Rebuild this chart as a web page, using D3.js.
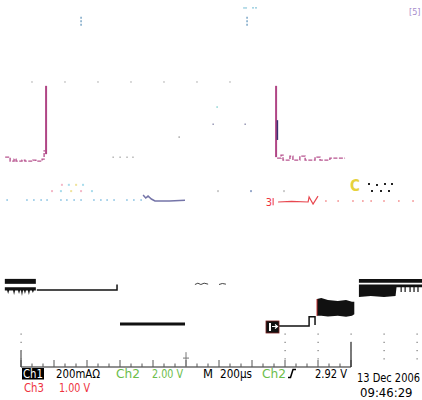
<!DOCTYPE html>
<html>
<head>
<meta charset="utf-8">
<style>
  body { margin: 0; background: #fff; }
  text { font-family: "Liberation Sans Narrow", "DejaVu Sans Condensed", "Arial Narrow", sans-serif; font-stretch: condensed; }
</style>
</head>
<body>
<script src="https://cdn.jsdelivr.net/npm/d3@7"></script>
<script>
// all values in graticule divisions: x = time (1 div = 200 µs), y = level above the bottom edge
const ch1BandTop = [[-0.49, 2.67, 2.52], [0.45, 2.67, 2.52]];
const ch1BandNoisy = [
  [-0.49, 2.42, 2.32], [-0.42, 2.42, 2.32], [-0.39, 2.42, 2.21], [-0.36, 2.42, 2.32],
  [-0.24, 2.42, 2.32], [-0.21, 2.42, 2.18], [-0.18, 2.42, 2.32], [-0.09, 2.42, 2.32],
  [-0.06, 2.42, 2.21], [-0.03, 2.42, 2.32], [0.0, 2.42, 2.32], [0.03, 2.42, 2.15],
  [0.06, 2.42, 2.32], [0.09, 2.42, 2.32], [0.12, 2.42, 2.21], [0.15, 2.42, 2.32],
  [0.21, 2.42, 2.32], [0.24, 2.42, 2.18], [0.27, 2.42, 2.32], [0.33, 2.42, 2.32],
  [0.36, 2.42, 2.24], [0.39, 2.42, 2.32], [0.45, 2.42, 2.32]
];
const ch1Step = [[0.48, 2.33], [2.91, 2.33], [2.91, 2.50]];
const ch1Low = [[3.0, 1.30], [4.97, 1.30]];
const ch1Glitch1 = [[5.27, 2.50], [5.36, 2.54], [5.45, 2.50], [5.55, 2.54], [5.67, 2.51]];
const ch1Glitch2 = [[6.0, 2.50], [6.1, 2.53], [6.21, 2.51]];
const ch1Ref = [[7.82, 1.24], [8.73, 1.24], [8.73, 1.52], [8.91, 1.52], [8.91, 1.27]];
const ch1BlockMid = [
  [8.97, 2.06, 1.55], [9.1, 2.09, 1.55], [9.3, 2.03, 1.53], [9.6, 2.0, 1.55],
  [9.85, 2.03, 1.52], [10.03, 1.98, 1.55], [10.1, 1.98, 1.6]
];
const ch1BlockHighTop = [[10.24, 2.67, 2.55], [12.2, 2.67, 2.55]];
const ch1BlockHigh = [
  [10.24, 2.50, 2.12], [10.6, 2.50, 2.15], [11.0, 2.50, 2.12], [11.35, 2.50, 2.15],
  [11.38, 2.50, 2.42], [12.2, 2.50, 2.42]
];
const ch1Spikes = [11.52, 11.64, 11.79, 11.91, 12.03];

const ch4Edges = [0.76, 7.73];
const ch4EdgeTop = 8.52;
const ch4EdgeBottom = [6.45, 6.36];
const ch4Noise1 = [
  [-0.48, 6.36], [-0.33, 6.36], [-0.33, 6.24], [-0.21, 6.24], [-0.21, 6.30], [-0.15, 6.30],
  [-0.15, 6.24], [0.03, 6.24], [0.03, 6.27], [0.12, 6.27], [0.12, 6.24], [0.36, 6.24],
  [0.36, 6.27], [0.45, 6.27], [0.45, 6.24], [0.64, 6.24], [0.64, 6.30], [0.70, 6.30],
  [0.70, 6.55], [0.76, 6.55]
];
const ch4Noise2 = [
  [7.76, 6.33], [7.88, 6.33], [7.88, 6.42], [7.94, 6.42], [7.94, 6.27], [8.15, 6.27],
  [8.15, 6.39], [8.24, 6.39], [8.24, 6.27], [8.45, 6.27], [8.45, 6.39], [8.61, 6.39],
  [8.61, 6.27], [8.91, 6.27], [8.91, 6.36], [9.06, 6.36], [9.06, 6.27], [9.36, 6.27],
  [9.36, 6.33], [9.82, 6.33]
];
const ch4Dark = [[7.77, 7.48], [7.77, 6.88]];

const refTrace = [[3.70, 5.21], [3.78, 5.12], [3.85, 5.18], [3.95, 5.09], [4.06, 5.03], [4.5, 5.03], [4.97, 5.05]];
const refDots = [-0.42, 0.18, 0.39, 0.61, 0.79, 1.21, 1.39, 1.61, 1.82, 2.21, 2.42, 2.61, 2.82, 3.21, 3.42, 3.64];
const ch3Trace = [[7.79, 5.0], [8.2, 5.02], [8.70, 5.0], [8.73, 5.15], [8.85, 4.94], [9.0, 5.18]];
const ch3Dots = [9.24, 9.61, 10.06, 10.36, 10.61, 11.0, 11.45, 11.88];

const cursorCols = [1.82, 6.85];
const cursorSpan = [10.30, 10.61];
const topDotsX = [0.33, 1.33, 2.33, 3.33, 4.33, 5.33, 6.33];
const topDotsY = 8.64;
const strayDots = [[4.79, 6.97, "#999"], [5.94, 7.88, "#7cc"], [5.82, 7.36, "#88a"], [6.79, 7.36, "#88a"],
  [2.79, 6.36, "#aaa"], [3.0, 6.36, "#aaa"], [3.21, 6.36, "#aaa"], [3.39, 6.36, "#aaa"]];
const pastelDots = [[1.24, 5.52, "#f4b8c8"], [1.45, 5.52, "#a8dcec"], [1.67, 5.52, "#f0e39a"], [1.88, 5.52, "#a8dcec"],
  [0.94, 5.33, "#f4b8c8"], [1.21, 5.33, "#a8dcec"], [1.52, 5.33, "#f0e39a"], [1.82, 5.33, "#f4b8c8"], [2.15, 5.33, "#a8dcec"],
  [5.97, 5.33, "#ccc"], [6.97, 5.33, "#9ac"], [7.97, 5.33, "#ccc"]];
const bottomDotCols = [0, 8, 9, 10, 11, 12];
const bottomDotRows = [1.0, 0.75, 0.5, 0.25];

const labelsRow1 = [
  { text: "200mAΩ", x: 56, w: 44, color: "#000" },
  { text: "Ch2", x: 116, w: 24, color: "#6bbd4a" },
  { text: "2.00 V", x: 152, w: 31, color: "#6bbd4a" },
  { text: "M", x: 203, w: 10, color: "#000" },
  { text: "200µs", x: 220, w: 32, color: "#000" },
  { text: "Ch2", x: 262, w: 24, color: "#6bbd4a" },
  { text: "2.92 V", x: 315, w: 32, color: "#000" }
];
const labelsRow2 = [
  { text: "Ch3", x: 24, w: 20, color: "#ee3340" },
  { text: "1.00 V", x: 59, w: 31, color: "#ee3340" }
];
const dateLabel = "13 Dec 2006";
const timeLabel = "09:46:29";

const width = 422;
const height = 400;

const svg = d3.select("body")
  .append("svg")
  .attr("width", width)
  .attr("height", height);

svg.append("rect").attr("width", width).attr("height", height).attr("fill", "white");

const x = d3.scaleLinear().domain([0, 10]).range([21, 351]);
const y = d3.scaleLinear().domain([0, 8]).range([367, 103]);

const line = d3.line().x(d => x(d[0])).y(d => y(d[1]));
const area = d3.area().x(d => x(d[0])).y0(d => y(d[2])).y1(d => y(d[1]));

// graticule remains
const g = svg.append("g");
g.append("line").attr("x1", x(0)).attr("x2", x(10)).attr("y1", y(0)).attr("y2", y(0))
  .attr("stroke", "#222").attr("stroke-width", 1.2);
g.selectAll(".minor").data(d3.range(0, 31).map(i => i / 3)).join("line")
  .attr("x1", d => x(d)).attr("x2", d => x(d))
  .attr("y1", d => y(0) - (Math.abs(d - Math.round(d)) < 0.01 ? 7 : 3.5)).attr("y2", y(0))
  .attr("stroke", "#555").attr("stroke-width", 1);
g.append("line").attr("x1", x(0)).attr("x2", x(0)).attr("y1", y(0.5)).attr("y2", y(0)).attr("stroke", "#333");
g.append("line").attr("x1", x(10)).attr("x2", x(10)).attr("y1", y(0.76)).attr("y2", y(0)).attr("stroke", "#222").attr("stroke-width", 1.2);
g.append("line").attr("x1", x(5)).attr("x2", x(5)).attr("y1", y(0.45)).attr("y2", y(0)).attr("stroke", "#777");
g.append("line").attr("x1", x(5) - 3).attr("x2", x(5) + 3).attr("y1", y(0.27)).attr("y2", y(0.27)).attr("stroke", "#777");

const dotGrid = [];
bottomDotCols.forEach(c => bottomDotRows.forEach(r => dotGrid.push([c, r])));
g.selectAll(".gdot").data(dotGrid).join("rect")
  .attr("x", d => x(d[0]) - 0.5).attr("y", d => y(d[1]) - 0.5)
  .attr("width", 1.2).attr("height", 1.2).attr("fill", "#777");
g.selectAll(".tdot").data(topDotsX).join("rect")
  .attr("x", d => x(d) - 0.5).attr("y", y(topDotsY) - 0.5)
  .attr("width", 1.2).attr("height", 1.2).attr("fill", "#999");

// cursors at the top
cursorCols.forEach(c => {
  g.append("line").attr("x1", x(c)).attr("x2", x(c))
    .attr("y1", y(cursorSpan[1])).attr("y2", y(cursorSpan[0]))
    .attr("stroke", "#5a90b8").attr("stroke-width", 1.2).attr("stroke-dasharray", "2,1.5");
});
g.append("line").attr("x1", x(6.73)).attr("x2", x(6.85)).attr("y1", y(10.88)).attr("y2", y(10.88))
  .attr("stroke", "#8cc8dc").attr("stroke-width", 1.2);
g.append("line").attr("x1", x(7.0)).attr("x2", x(7.18)).attr("y1", y(10.88)).attr("y2", y(10.88))
  .attr("stroke", "#8cc8dc").attr("stroke-width", 1.2).attr("stroke-dasharray", "2,1");
svg.append("text").attr("x", 409).attr("y", 15).attr("font-size", 9).attr("fill", "#a88ccc").text("[5]");

g.selectAll(".sdot").data(strayDots).join("rect")
  .attr("x", d => x(d[0]) - 0.6).attr("y", d => y(d[1]) - 0.6)
  .attr("width", 1.4).attr("height", 1.4).attr("fill", d => d[2]);
g.selectAll(".pdot").data(pastelDots).join("rect")
  .attr("x", d => x(d[0]) - 1).attr("y", d => y(d[1]) - 1)
  .attr("width", 2).attr("height", 2).attr("fill", d => d[2]);

// magenta channel
ch4Edges.forEach((e, i) => {
  g.append("line").attr("x1", x(e)).attr("x2", x(e))
    .attr("y1", y(ch4EdgeTop)).attr("y2", y(ch4EdgeBottom[i]))
    .attr("stroke", "#b04585").attr("stroke-width", 2);
});
g.append("path").attr("d", line(ch4Dark)).attr("stroke", "#3a3070").attr("stroke-width", 1.5).attr("fill", "none");
[ch4Noise1, ch4Noise2].forEach(n => {
  g.append("path").attr("d", line(n)).attr("fill", "none")
    .attr("stroke", "#b85590").attr("stroke-width", 1.4).attr("stroke-dasharray", "4,1.5");
});

// reference + ch3 traces
g.selectAll(".rdot").data(refDots).join("rect")
  .attr("x", d => x(d) - 0.8).attr("y", y(5.06) - 0.8)
  .attr("width", 1.6).attr("height", 1.6).attr("fill", "#8cc4e4");
g.append("path").attr("d", line(refTrace)).attr("fill", "none").attr("stroke", "#7474a8").attr("stroke-width", 1.5);
svg.append("text").attr("x", x(7.42)).attr("y", y(5.0) + 4).attr("font-size", 11).attr("fill", "#ee3340").text("3");
g.append("line").attr("x1", x(7.64)).attr("x2", x(7.64)).attr("y1", y(5.12)).attr("y2", y(4.9)).attr("stroke", "#ee3340");
g.append("path").attr("d", line(ch3Trace)).attr("fill", "none").attr("stroke", "#e84850").attr("stroke-width", 1.2);
g.selectAll(".c3dot").data(ch3Dots).join("rect")
  .attr("x", d => x(d) - 0.7).attr("y", y(5.03) - 0.7)
  .attr("width", 1.4).attr("height", 1.4).attr("fill", "#f07070");

// ch2 marker remains
svg.append("text").attr("x", 350).attr("y", 191).attr("font-size", 15).attr("font-weight", "bold").attr("fill", "#e6d23c").text("C");
g.selectAll(".mdot").data([[368, 183], [376, 184], [384, 183], [391, 183], [371, 190], [380, 190], [388, 190]]).join("rect")
  .attr("x", d => d[0]).attr("y", d => d[1]).attr("width", 2).attr("height", 2).attr("fill", "#222");

// ch1 (black)
[ch1BandTop, ch1BandNoisy, ch1BlockMid, ch1BlockHighTop, ch1BlockHigh].forEach(b => {
  g.append("path").attr("d", area(b)).attr("fill", "#111");
});
g.selectAll(".spk").data(ch1Spikes).join("line")
  .attr("x1", d => x(d)).attr("x2", d => x(d)).attr("y1", y(2.48)).attr("y2", y(2.27))
  .attr("stroke", "#111").attr("stroke-width", 1.2);
g.append("line").attr("x1", x(8.97)).attr("x2", x(8.97)).attr("y1", y(2.06)).attr("y2", y(1.55))
  .attr("stroke", "#c03030").attr("stroke-width", 1);
g.append("path").attr("d", line(ch1Step)).attr("fill", "none").attr("stroke", "#111").attr("stroke-width", 1.5);
g.append("path").attr("d", line(ch1Low)).attr("fill", "none").attr("stroke", "#111").attr("stroke-width", 3);
g.append("path").attr("d", line(ch1Ref)).attr("fill", "none").attr("stroke", "#111").attr("stroke-width", 1.5);
[ch1Glitch1, ch1Glitch2].forEach(gl => {
  g.append("path").attr("d", line(gl)).attr("fill", "none").attr("stroke", "#444").attr("stroke-width", 1);
});

// ch1 ground marker
g.append("rect").attr("x", 266).attr("y", 321).attr("width", 13).attr("height", 12)
  .attr("fill", "#111").attr("stroke", "#7a2020").attr("stroke-width", 0.8);
g.append("rect").attr("x", 269).attr("y", 323).attr("width", 2).attr("height", 8).attr("fill", "white");
g.append("path").attr("d", "M272,326.5 L277,326.5 M275,324.5 L277.5,326.5 L275,328.5")
  .attr("stroke", "white").attr("stroke-width", 1.2).attr("fill", "none");

// status text
const fs = 12.5;
svg.append("rect").attr("x", 22).attr("y", 368).attr("width", 22).attr("height", 11.5).attr("fill", "#000");
svg.append("text").attr("x", 23).attr("y", 377.5).attr("font-size", fs).attr("fill", "white")
  .attr("textLength", 20).attr("lengthAdjust", "spacingAndGlyphs").text("Ch1");
svg.selectAll(".l1").data(labelsRow1).join("text")
  .attr("x", d => d.x).attr("y", 377.5).attr("font-size", fs).attr("fill", d => d.color)
  .attr("textLength", d => d.w).attr("lengthAdjust", "spacingAndGlyphs").text(d => d.text);
svg.selectAll(".l2").data(labelsRow2).join("text")
  .attr("x", d => d.x).attr("y", 392.2).attr("font-size", fs).attr("fill", d => d.color)
  .attr("textLength", d => d.w).attr("lengthAdjust", "spacingAndGlyphs").text(d => d.text);
svg.append("path").attr("d", "M288,377.5 L290.5,377.5 L293,369.5 L296,369.5")
  .attr("stroke", "#000").attr("stroke-width", 1.5).attr("fill", "none");

// date and time squeezed to the width they take on the screen
function fitted(txt, x0, y0, w) {
  const t = svg.append("text").attr("font-size", 13).attr("fill", "#000").text(txt);
  const natural = t.node().getComputedTextLength();
  t.attr("transform", `translate(${x0},${y0}) scale(${Math.min(1, w / natural)},1)`);
}
fitted(dateLabel, 357, 382, 63);
fitted(timeLabel, 360, 396.8, 53);
</script>
</body>
</html>
